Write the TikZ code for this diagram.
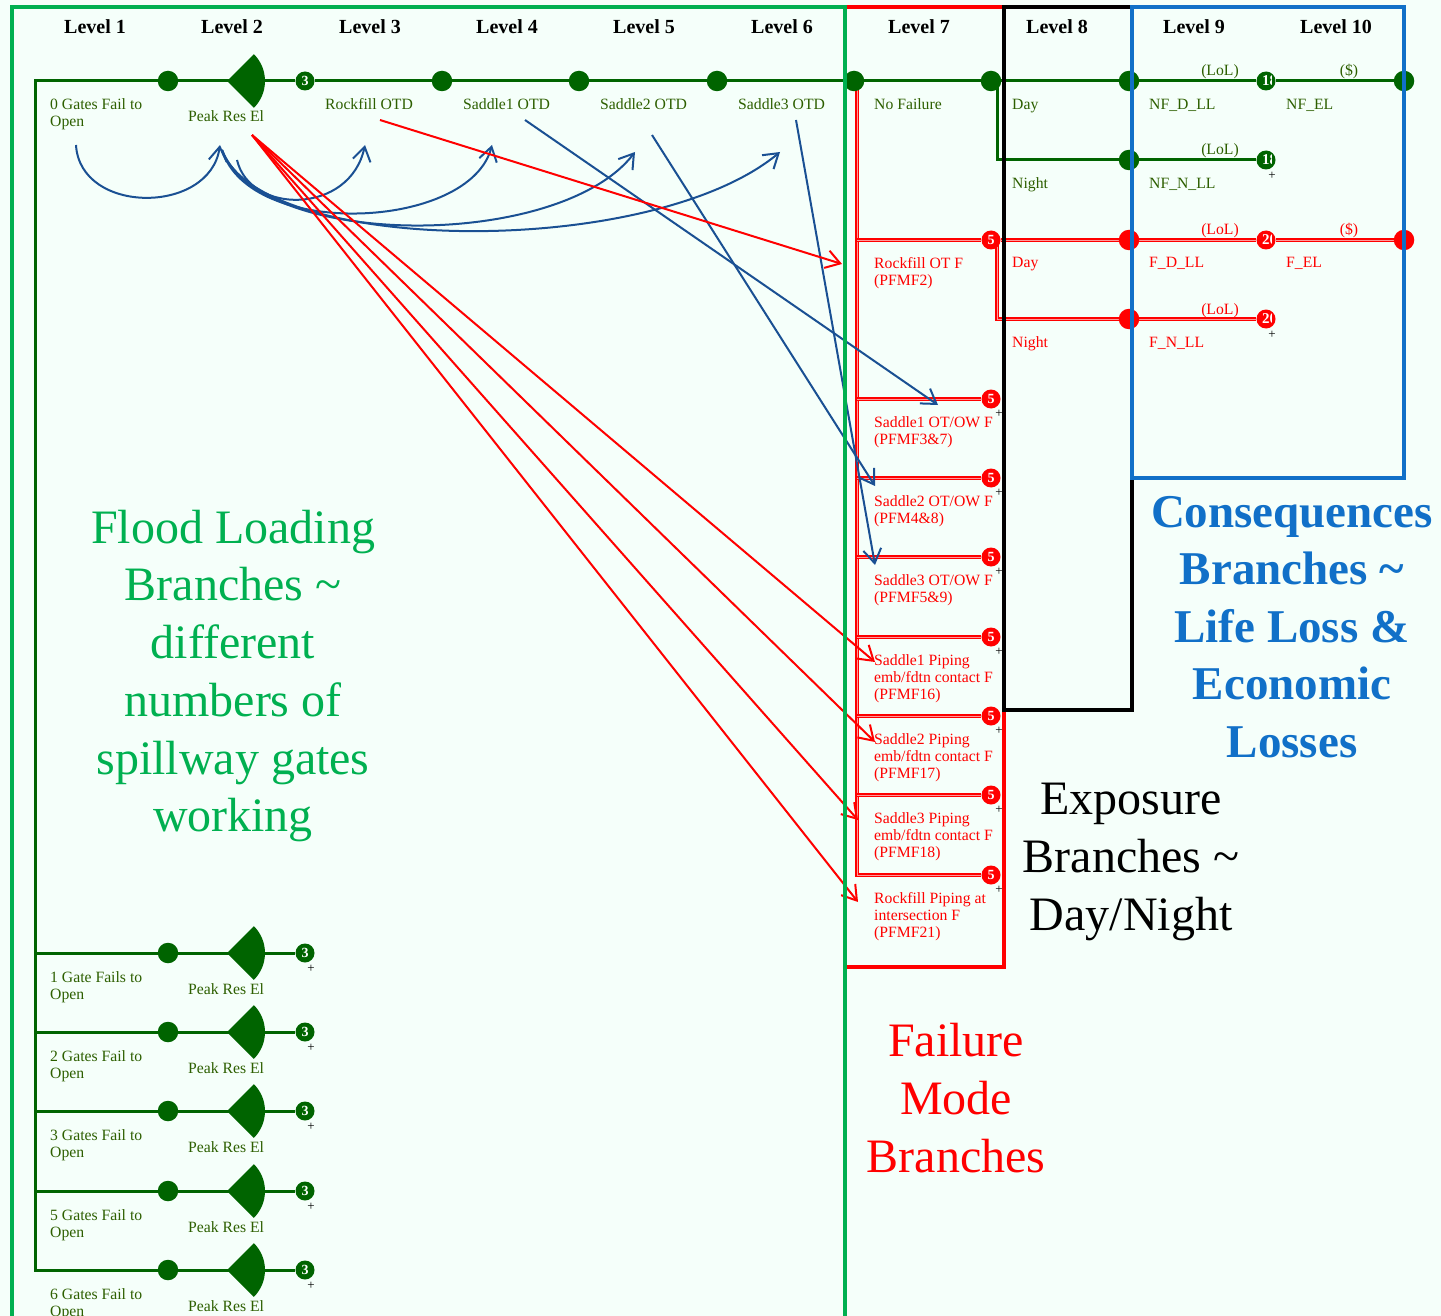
\documentclass[tikz,border=0pt]{standalone}
\usepackage{fontspec}
\setmainfont{Liberation Serif}
\usetikzlibrary{arrows.meta}
\pgfdeclarelayer{bglayer}
\pgfdeclarelayer{linelayer}
\pgfsetlayers{bglayer,linelayer,main}
\definecolor{bgmint}{HTML}{F5FFFA}
\definecolor{boxgreen}{HTML}{00B050}
\definecolor{boxblue}{HTML}{1170C8}
\definecolor{treegreen}{HTML}{006400}
\definecolor{lblgreen}{RGB}{45,95,0}
\definecolor{arrblue}{HTML}{1A5093}
\begin{document}
\begin{tikzpicture}[x=1pt,y=-1pt,
  gline/.style={draw=treegreen,line width=3pt},
  rline/.style={draw=red,double=red!40,double distance=0.7pt,line width=1.4pt},
  chance/.style={circle,fill=treegreen,minimum size=20.5pt,inner sep=0pt},
  rchance/.style={chance,fill=red},
  numc/.style={circle,fill=treegreen,minimum size=19pt,inner sep=0pt,text=white,font=\bfseries\fontsize{14}{14}\selectfont},
  rnum/.style={numc,fill=red},
  numclip/.style 2 args={circle,minimum size=19pt,inner sep=0pt,fill=#1,
     path picture={\clip ([xshift=-4pt]path picture bounding box.north east) rectangle (path picture bounding box.south west);
       \node[text=white,font=\bfseries\fontsize{15}{15}\selectfont,inner sep=0pt] at ([xshift=3.5pt]path picture bounding box.center) {#2};}},
  lbl/.style={anchor=base west,inner sep=0pt,align=left,font=\fontsize{15.7}{17}\selectfont,text=lblgreen},
  rlbl/.style={lbl,text=red},
  clbl/.style={anchor=base,inner sep=0pt,font=\fontsize{15.7}{17}\selectfont,text=lblgreen},
  rclbl/.style={clbl,text=red},
  lvl/.style={anchor=base,inner sep=0pt,font=\bfseries\fontsize{20}{20}\selectfont},
  plusmark/.style={inner sep=0pt,font=\fontsize{13}{13}\selectfont},
  bigtext/.style={align=center,inner sep=0pt,font=\fontsize{48}{57.7}\selectfont},
  barrow/.style={draw=arrblue,line width=2pt,-{Straight Barb[length=14pt,width=18pt,line width=2pt]}},
  rarrow/.style={draw=red,line width=2pt,-{Straight Barb[length=14pt,width=18pt,line width=2pt]}}
]
\begin{pgfonlayer}{bglayer}
\fill[bgmint] (0,0) rectangle (1441,1316);
\end{pgfonlayer}
\useasboundingbox (0,0) rectangle (1441,1316);

% level headers
\foreach \i/\x in {1/95,2/232,3/370,4/507,5/644,6/782,7/919,8/1057,9/1194,10/1336}
  \node[lvl] (L\i) at (\x,34) {Level \i};

% ---------- top row nodes
\coordinate (b0) at (35,81);
\node[chance] (n1) at (168,81) {};
\coordinate (s0) at (227,81);
\node[numc] (d0) at (305,81) {3};
\node[chance] (n2) at (442,81) {};
\node[chance] (n3) at (579,81) {};
\node[chance] (n4) at (717,81) {};
\node[chance] (n5) at (854,81) {};
\node[chance] (n6) at (991,81) {};
\node[chance] (n7) at (1129,81) {};
\node[numclip={treegreen}{18}] (e1) at (1266,81) {};
\node[chance] (t1) at (1404,81) {};
\coordinate (v1) at (997,81);
\node[chance] (n8) at (1129,160) {};
\node[numclip={treegreen}{18}] (e2) at (1266,160) {};
\node[plusmark] (pe2) at (1272,176) {+};

% ---------- bottom rows
\foreach \k/\y/\t in {1/953/{1 Gate Fails to},2/1032/{2 Gates Fail to},3/1111/{3 Gates Fail to},4/1191/{5 Gates Fail to},5/1270/{6 Gates Fail to}}{
  \coordinate (b\k) at (35,\y);
  \node[chance] (m\k) at (168,\y) {};
  \coordinate (s\k) at (227,\y);
  \node[numc] (d\k) at (305,\y) {3};
  \node[plusmark] (p\k) at (311,\y+16) {+};
  \node[lbl] (g\k) at (50,\y+46) {\t\\Open};
  \node[lbl] (pr\k) at (188,\y+41) {Peak Res El};
}

% ---------- failure mode nodes
\coordinate (r0) at (857,81);
\foreach \k/\y in {1/240,2/399,3/478,4/557,5/637,6/716,7/795,8/875}{
  \coordinate (r\k) at (857,\y);
  \node[rnum] (f\k) at (991,\y) {5};
}
\foreach \k/\y in {2/399,3/478,4/557,5/637,6/716,7/795,8/875}
  \node[plusmark] (pf\k) at (999,\y+15) {+};
\node[rchance] (n9) at (1129,240) {};
\node[numclip={red}{20}] (e3) at (1266,240) {};
\node[rchance] (t2) at (1404,240) {};
\coordinate (v3) at (997,240);
\node[rchance] (n10) at (1129,319) {};
\node[numclip={red}{20}] (e4) at (1266,319) {};
\node[plusmark] (pe4) at (1272,335) {+};

% ---------- tree lines
\begin{pgfonlayer}{linelayer}
\draw[gline] (n1) -- (b0) -- (b5) -- (m5);
\draw[gline] (n1) -- (s0) -- (d0) -- (n2) -- (n3) -- (n4) -- (n5) -- (n6) -- (n7) -- (e1) -- (t1);
\draw[gline] (v1) |- (n8);
\draw[gline] (n8) -- (e2);
\foreach \k in {1,...,4} \draw[gline] (b\k) -- (m\k);
\foreach \k in {1,...,5} \draw[gline] (m\k) -- (s\k) -- (d\k);
\draw[rline] (r0) -- (r8) -- (f8);
\foreach \k in {1,...,7} \draw[rline] (r\k) -- (f\k);
\draw[rline] (f1) -- (n9) -- (e3) -- (t2);
\draw[rline] (v3) |- (n10);
\draw[rline] (n10) -- (e4);
\end{pgfonlayer}

% sectors (Peak Res El)
\foreach \k in {0,...,5}
  \fill[treegreen] (s\k) -- ++(-45:38) arc[start angle=-45,end angle=45,radius=38] -- cycle;

% ---------- labels top row
\node[lbl] (g0) at (50,127) {0 Gates Fail to\\Open};
\node[lbl] (pr0) at (188,122) {Peak Res El};
\node[lbl] (lro) at (325,110) {Rockfill OTD};
\node[lbl] (ls1) at (463,110) {Saddle1 OTD};
\node[lbl] (ls2) at (600,110) {Saddle2 OTD};
\node[lbl] (ls3) at (738,110) {Saddle3 OTD};
\node[lbl] (lnf) at (874,110) {No Failure};
\node[lbl] (lday1) at (1012,110) {Day};
\node[lbl] (lnfd) at (1149,110) {NF\_D\_LL};
\node[lbl] (lnfe) at (1286,110) {NF\_EL};
\node[lbl] (lnight1) at (1012,189) {Night};
\node[lbl] (lnfn) at (1149,189) {NF\_N\_LL};
\node[clbl] (lol1) at (1220,76) {(LoL)};
\node[clbl] (lol2) at (1220,155) {(LoL)};
\node[clbl] (usd1) at (1349,76) {(\$)};

% ---------- labels failure
\node[rlbl] (lday2) at (1012,268) {Day};
\node[rlbl] (lnight2) at (1012,347) {Night};
\node[rlbl] (lfd) at (1149,268) {F\_D\_LL};
\node[rlbl] (lfe) at (1286,268) {F\_EL};
\node[rlbl] (lfn) at (1149,347) {F\_N\_LL};
\node[rclbl] (lol3) at (1220,235) {(LoL)};
\node[rclbl] (lol4) at (1220,314) {(LoL)};
\node[rclbl] (usd2) at (1349,235) {(\$)};

\node[rlbl] (fm1) at (874,285) {Rockfill OT F\\(PFMF2)};
\node[rlbl] (fm2) at (874,444) {Saddle1 OT/OW F\\(PFMF3\&7)};
\node[rlbl] (fm3) at (874,523) {Saddle2 OT/OW F\\(PFM4\&8)};
\node[rlbl] (fm4) at (874,602) {Saddle3 OT/OW F\\(PFMF5\&9)};
\node[rlbl] (fm5) at (874,699) {Saddle1 Piping\\emb/fdtn contact F\\(PFMF16)};
\node[rlbl] (fm6) at (874,778) {Saddle2 Piping\\emb/fdtn contact F\\(PFMF17)};
\node[rlbl] (fm7) at (874,857) {Saddle3 Piping\\emb/fdtn contact F\\(PFMF18)};
\node[rlbl] (fm8) at (874,937) {Rockfill Piping at\\intersection F\\(PFMF21)};

% ---------- big texts
\node[bigtext,text=boxgreen] (tflood) at (233,676) {Flood Loading\\Branches \textasciitilde\\different\\numbers of\\spillway gates\\working};
\node[bigtext] (texp) at (1131,862) {Exposure\\Branches \textasciitilde\\Day/Night};
\node[bigtext,text=boxblue,font=\bfseries\fontsize{47}{57.5}\selectfont] (tcons) at (1292,627) {Consequences\\Branches \textasciitilde\\Life Loss \&\\Economic\\Losses};
\node[bigtext,text=red] (tfail) at (956,1098) {Failure\\Mode\\Branches};

% ---------- arrows
\coordinate (a0s) at (76,145);
\coordinate (a0e) at (220,145);
\coordinate (pks) at (222,150);
\coordinate (pk2) at (237,160);
\coordinate (aro) at (365,145);
\coordinate (as1) at (492,145);
\coordinate (as2) at (635,152);
\coordinate (as3) at (780,152);
\draw[barrow] (a0s) .. controls (80,215) and (210,215) .. (a0e);
\draw[barrow] (pk2) .. controls (250,215) and (350,215) .. (aro);
\draw[barrow] (pks) .. controls (250,240) and (470,230) .. (as1);
\draw[barrow] (pks) .. controls (260,250) and (560,250) .. (as2);
\draw[barrow] (pks) .. controls (260,255) and (650,260) .. (as3);

\coordinate (bs1) at (525,120);
\coordinate (bs2) at (652,135);
\coordinate (bs3) at (796,120);
\coordinate (be1) at (938,405);
\coordinate (be2) at (875,486);
\coordinate (be3) at (875,565);
\draw[barrow] (bs1) -- (be1);
\draw[barrow] (bs2) -- (be2);
\draw[barrow] (bs3) -- (be3);

\coordinate (rs0) at (380,120);
\coordinate (rs1) at (252,135);
\coordinate (re0) at (842,264);
\coordinate (re1) at (875,662);
\coordinate (re2) at (875,742);
\coordinate (re3) at (858,820);
\coordinate (re4) at (858,902);
\draw[rarrow] (rs0) -- (re0);
\draw[rarrow] (rs1) -- (re1);
\draw[rarrow] (rs1) -- (re2);
\draw[rarrow] (rs1) -- (re3);
\draw[rarrow] (rs1) -- (re4);

% ---------- boxes
\draw[red,line width=4pt] (845,7) rectangle (1004,967);
\draw[black,line width=4pt] (1004,7) rectangle (1132,710);
\draw[boxblue,line width=4pt] (1132,7) rectangle (1404,478);
\draw[boxgreen,line width=4.5pt] (12,7) rectangle (845,1340);
\end{tikzpicture}
\end{document}
